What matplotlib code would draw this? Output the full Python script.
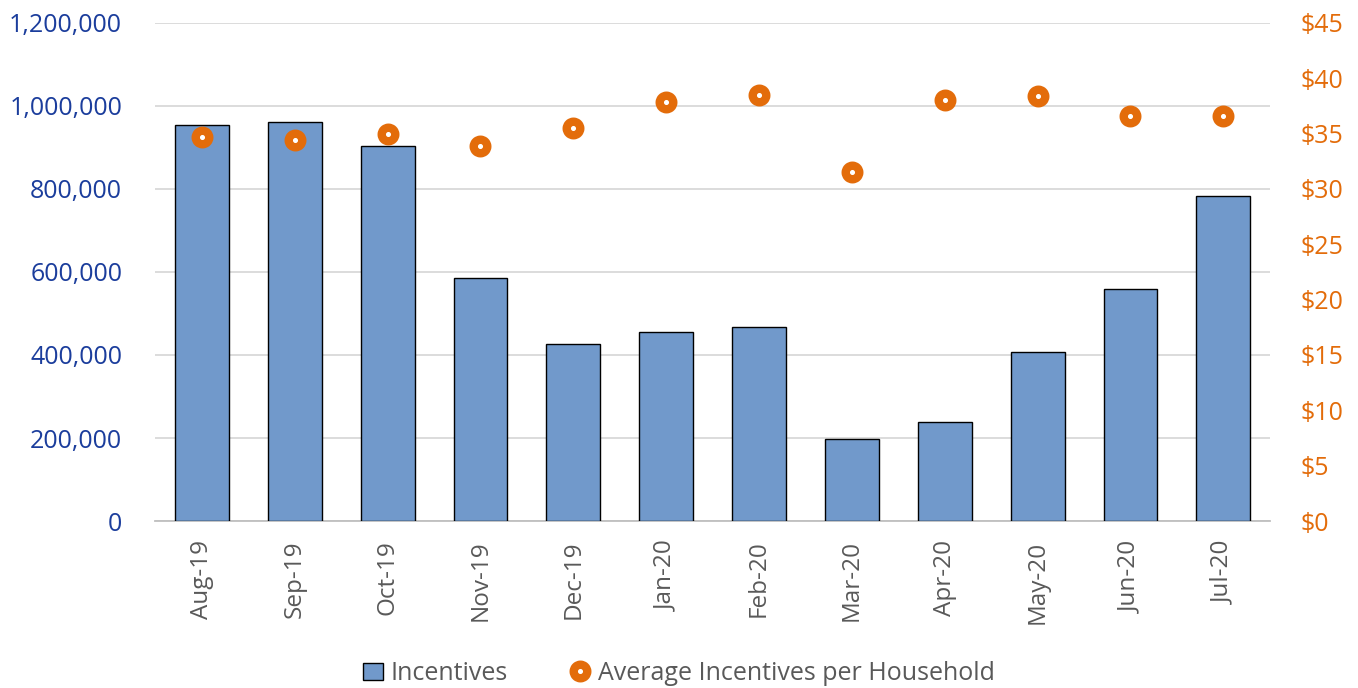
import numpy as np
import matplotlib.pyplot as plt
from matplotlib.ticker import FuncFormatter, MultipleLocator

months = ["Aug-19", "Sep-19", "Oct-19", "Nov-19", "Dec-19", "Jan-20",
          "Feb-20", "Mar-20", "Apr-20", "May-20", "Jun-20", "Jul-20"]
incentives = [954000, 961000, 904000, 586000, 427000, 456000,
              468000, 198000, 239000, 408000, 560000, 783000]
avg_per_household = [34.7, 34.4, 35.0, 33.9, 35.5, 37.9,
                     38.5, 31.5, 38.0, 38.4, 36.6, 36.6]

plt.rcParams['font.family'] = ['Open Sans', 'DejaVu Sans']

blue_txt = "#1B3D9C"
orange = "#E36C0A"
gray_txt = "#595959"

fig = plt.figure(figsize=(13.58, 6.88), dpi=100)
ax = fig.add_axes([0.1145, 0.2427, 0.8205, 0.724])
x = np.arange(len(months))

bars = ax.bar(x, incentives, width=0.58, color="#7199CB", edgecolor="black",
              linewidth=1.0, zorder=3, label="Incentives")
ax.set_ylim(0, 1200000)
ax.set_xlim(-0.5, len(months) - 0.5)
ax.yaxis.set_major_locator(MultipleLocator(200000))
ax.yaxis.set_major_formatter(FuncFormatter(lambda v, p: f"{int(v):,}"))
ax.grid(axis="y", color="#D9D9D9", linewidth=1.3, zorder=0)
for s in ["top", "left", "right"]:
    ax.spines[s].set_visible(False)
ax.spines["bottom"].set_color("#BFBFBF")
ax.spines["bottom"].set_linewidth(1.3)
ax.set_xticks(x)
ax.set_xticklabels(months, rotation=90, fontsize=17.5, color=gray_txt)
ax.tick_params(axis="x", length=0, pad=14)
ax.tick_params(axis="y", length=0, labelsize=18, labelcolor=blue_txt, pad=24)

ax2 = ax.twinx()
ax2.set_ylim(0, 45)
ax2.yaxis.set_major_locator(MultipleLocator(5))
ax2.yaxis.set_major_formatter(FuncFormatter(lambda v, p: f"${int(v)}"))
for s in ax2.spines.values():
    s.set_visible(False)
ax2.tick_params(axis="y", length=0, labelsize=18, labelcolor=orange, pad=22)
pts, = ax2.plot(x, avg_per_household, linestyle="none", marker="o",
                markersize=9.8, markerfacecolor="white", markeredgecolor=orange,
                markeredgewidth=6.0, zorder=4,
                label="Average Incentives per Household")

fig.legend(handles=[bars, pts], loc="lower center", ncol=2, frameon=False,
           fontsize=18, labelcolor=gray_txt, bbox_to_anchor=(0.5, -0.03),
           handlelength=0.8, handletextpad=0.3, columnspacing=2.5)

fig.savefig("out.png", dpi=100)
